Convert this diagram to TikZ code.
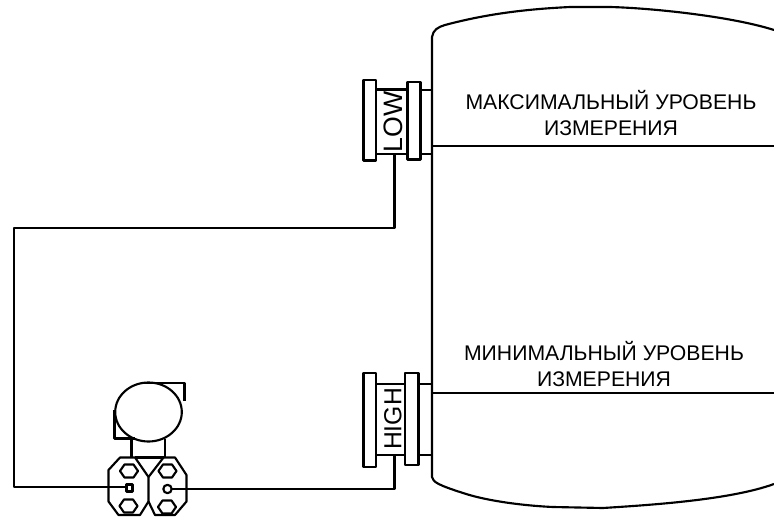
\documentclass[tikz,border=0pt]{standalone}
\usepackage{fontspec}
\setmainfont{Liberation Sans}

\begin{document}
\begin{tikzpicture}[x=0.75pt,y=0.75pt,yscale=-1,xscale=1,
  line/.style={line width=1.6pt,line join=round},
  levellabel/.style={inner sep=0.75pt,align=center,font=\fontsize{15.9}{19.5}\selectfont},
  sidelabel/.style={inner sep=0pt,rotate=90}]
\useasboundingbox (0,0) rectangle (774,517);

%Tank
\draw [line] (774,30) .. controls (730,16) and (650,8) .. (610,7) -- (570,7) .. controls (530,9) and (490,13) .. (445,25) .. controls (438,27) and (433,30) .. (432,37) -- (432,477) .. controls (433,482) and (438,485) .. (463,493) .. controls (490,502) and (530,506) .. (553,507) -- (603,508) .. controls (650,505) and (730,500) .. (774,484) ;
%Level lines
\coordinate (maxwall) at (432,146);
\coordinate (maxend) at (774,146);
\coordinate (minwall) at (432,393);
\coordinate (minend) at (774,393);
\draw [line] (maxwall) -- (maxend);
\draw [line] (minwall) -- (minend);

%Low flange
\draw [line] (363.5,80) rectangle (376,160.5);
\draw [line] (407.5,82) rectangle (420.5,159.5);
\draw [line] (376,89.5) -- (407.5,89.5);
\draw [line] (376,154) -- (407.5,154);
\draw [line] (420.5,90) -- (432,90);
\draw [line] (420.5,154) -- (432,154);
%High flange
\draw [line] (363.5,373) rectangle (376,467);
\draw [line] (405,373) rectangle (418.5,465);
\draw [line] (376,384) -- (405,384);
\draw [line] (376,455) -- (405,455);
\draw [line] (418.5,384) -- (432,384);
\draw [line] (418.5,455) -- (432,455);

%Transmitter head
\draw [line] (148.5,412) ellipse (33.3 and 29.5);
\draw [line] (145,383) -- (184.5,383) -- (184.5,401);
\draw [line] (114.5,410) -- (114.5,438.5) -- (135,438.5);
%Neck
\draw [line] (131.5,438.5) -- (131.5,457.5);
\draw [line] (165,438.5) -- (165,457.5);
\draw [line] (135,457.5) -- (163.5,457.5);
%Capsule
\draw [line] (120,457.5) -- (135,457.5) -- (148.5,477) -- (148.5,501.5) -- (140,515) -- (118.5,515) -- (108.5,501.5) -- (108.5,470) -- cycle;
\draw [line] (163.5,457.5) -- (175,457.5) -- (186.5,475) -- (186.5,501.5) -- (175,515) -- (155,515) -- (148.5,501.5);
\draw [line] (163.5,457.5) -- (148.5,477);
%Bolts
\foreach \cx/\cy in {129/471,128.5/506,167.5/471,167/507}{
  \draw [line] (\cx-9,\cy) -- (\cx-4.5,\cy-6.5) -- (\cx+4.5,\cy-6.5) -- (\cx+9,\cy) -- (\cx+4.5,\cy+6.5) -- (\cx-4.5,\cy+6.5) -- cycle;
}
%Ports
\draw [line] (126.5,484.5) rectangle (132.5,491.5);
\draw [line] (167.5,489) circle (4.2);

%Impulse lines
\coordinate (lowport) at (394.5,154);
\coordinate (leftport) at (126.5,487);
\coordinate (highport) at (394.5,455);
\coordinate (rightport) at (171.7,489);
\draw [line] (lowport) -- (394.5,228) -- (14,228) -- (14,487) -- (leftport);
\draw [line] (rightport) -- (394.5,489) -- (highport);

% Text Node
\node [sidelabel,font=\fontsize{20}{20}\selectfont] (lowlabel) at (393,122) {LOW};
% Text Node
\node [sidelabel,font=\fontsize{18.5}{18.5}\selectfont] (highlabel) at (393,419) {HIGH};
% Text Node
\node [levellabel] (maxlabel) at (611,113) {МАКСИМАЛЬНЫЙ УРОВЕНЬ\\ИЗМЕРЕНИЯ};
% Text Node
\node [levellabel] (minlabel) at (604,364) {МИНИМАЛЬНЫЙ УРОВЕНЬ\\ИЗМЕРЕНИЯ};
\end{tikzpicture}
\end{document}
